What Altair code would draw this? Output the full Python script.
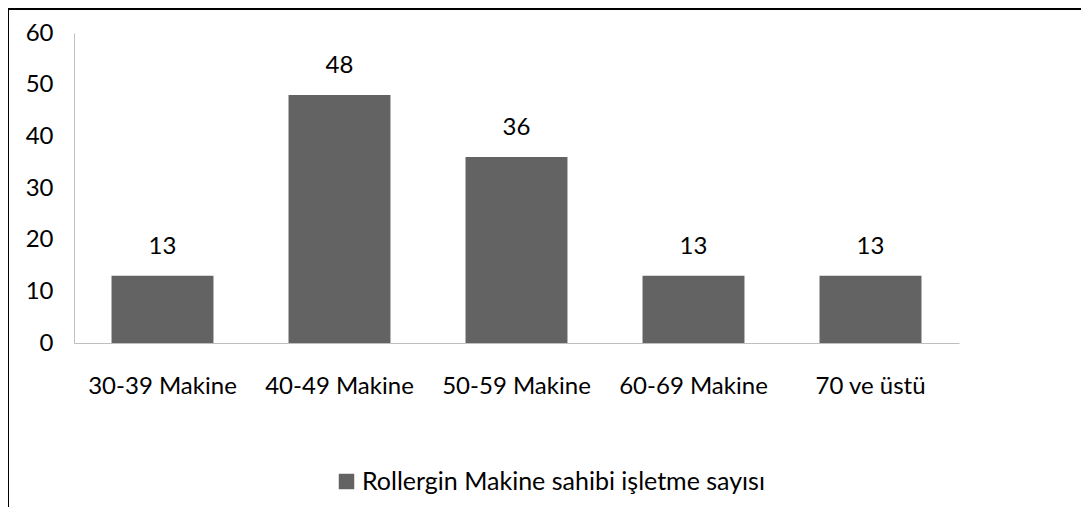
import altair as alt
import pandas as pd

categories = ["30-39 Makine", "40-49 Makine", "50-59 Makine", "60-69 Makine", "70 ve üstü"]
values = [13, 48, 36, 13, 13]
series_name = "Rollergin Makine sahibi işletme sayısı"

df = pd.DataFrame({"cat": categories, "val": values, "series": [series_name] * len(values)})

FONT = "Lato"
FS = 24
W, H = 885, 310

base = alt.Chart(df)

bars = base.mark_bar(color="#636363").encode(
    x=alt.X("cat:N", sort=categories,
            scale=alt.Scale(paddingInner=0.424, paddingOuter=0.212),
            axis=alt.Axis(title=None, labelAngle=0, ticks=False, labelPadding=31,
                          labelFontSize=FS, labelFont=FONT, labelColor="#000000",
                          domainColor="#bfbfbf", labelLimit=300)),
    y=alt.Y("val:Q", scale=alt.Scale(domain=[0, 60]),
            axis=alt.Axis(title=None, values=[0, 10, 20, 30, 40, 50, 60], ticks=False,
                          grid=False, labelPadding=21, labelFontSize=FS, labelFont=FONT,
                          labelColor="#000000", domainColor="#bfbfbf")),
    color=alt.Color("series:N", scale=alt.Scale(range=["#636363"]),
                    legend=alt.Legend(title=None, orient="none", legendX=260, legendY=436,
                                      symbolType="square", symbolSize=240,
                                      symbolStrokeWidth=0, labelFontSize=25, labelFont=FONT,
                                      labelOffset=3,
                                      labelColor="#000000", labelLimit=600)),
)

labels = base.mark_text(baseline="bottom", dy=-17, fontSize=FS, font=FONT, color="#000000").encode(
    x=alt.X("cat:N", sort=categories),
    y="val:Q",
    text="val:Q",
)

border_top = base.mark_rule(color="#000000", strokeWidth=2).encode(
    x=alt.value(-66), x2=alt.value(1080), y=alt.value(-24)
)
border_left = base.mark_rule(color="#000000", strokeWidth=2).encode(
    x=alt.value(-66), y=alt.value(-25), y2=alt.value(500)
)

chart = alt.layer(bars, labels, border_top, border_left).properties(
    width=W, height=H,
    background="#ffffff",
    autosize=alt.AutoSizeParams(type="none"),
    padding={"left": 66, "top": 25, "right": 122, "bottom": 164},
).configure_view(stroke=None, strokeWidth=0)

chart.save("out.html", embed_options={"renderer": "svg", "actions": False})
